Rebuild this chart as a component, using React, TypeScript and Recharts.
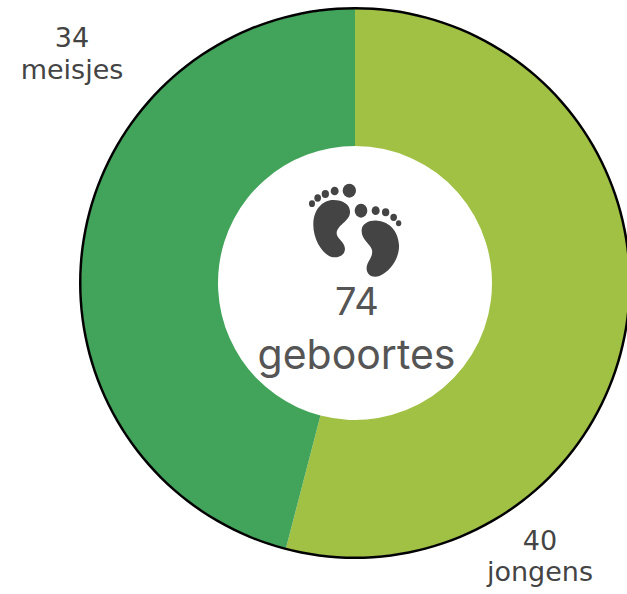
import React from "react";
import { PieChart, Pie, Cell, Customized } from "recharts";

const categories = ["jongens", "meisjes"];
const values = [40, 34];
const colors = ["#A1C145", "#42A35A"];
const total = "74";
const centerWord = "geboortes";
const data = categories.map((name, i) => ({ name, value: values[i] }));

const FeetIcon = () => (
  <g transform="translate(290,170) scale(0.3333)" fill="#444444">
    <path d="M70,160 C72,110 105,90 130,90 C160,90 182,105 180,128 C178,155 140,165 140,190 C140,207 165,215 165,238 C163,258 145,263 130,262 C100,258 68,210 70,160 Z" />
    <ellipse cx="178" cy="62" rx="20" ry="21" />
    <ellipse cx="134" cy="63" rx="12" ry="13" />
    <ellipse cx="106" cy="72" rx="11" ry="12" />
    <ellipse cx="83" cy="84" rx="10" ry="11" />
    <ellipse cx="66" cy="101" rx="9" ry="10" />
    <path d="M215,180 C216,160 240,150 262,152 C300,155 325,185 327,225 C329,265 300,305 268,318 C245,325 228,312 230,292 C232,272 250,262 246,240 C243,222 213,210 215,180 Z" />
    <ellipse cx="213" cy="122" rx="19" ry="21" />
    <ellipse cx="257" cy="122" rx="12" ry="13" />
    <ellipse cx="287" cy="127" rx="11" ry="12" />
    <ellipse cx="311" cy="142" rx="10" ry="11" />
    <ellipse cx="326" cy="160" rx="8" ry="9" />
  </g>
);

export default function App() {
  return (
    <div style={{ position: "absolute", left: 0, top: 0 }}>
      <PieChart width={627} height={594} margin={{ top: 0, right: 0, bottom: 0, left: 0 }}>
        <Pie
          data={data}
          dataKey="value"
          cx={355}
          cy={283}
          innerRadius={137}
          outerRadius={274}
          startAngle={90}
          endAngle={-270}
          stroke="none"
          isAnimationActive={false}
          labelLine={false}
          label={false}
        >
          {data.map((d, i) => (
            <Cell key={d.name} fill={colors[i]} />
          ))}
        </Pie>
        <Pie
          data={[{ value: 1 }]}
          dataKey="value"
          cx={355}
          cy={283}
          innerRadius={273.5}
          outerRadius={276}
          fill="#000000"
          stroke="none"
          isAnimationActive={false}
        />
        <Customized
          component={() => (
            <g>
              <FeetIcon />
              <text x={357} y={315} textAnchor="middle" fontFamily="Inter, sans-serif" fontSize={38} fill="#555555">{total}</text>
              <text x={356.5} y={369} textAnchor="middle" fontFamily="Inter, sans-serif" fontSize={41} fill="#555555">{centerWord}</text>
              <text x={72} y={47} textAnchor="middle" fontFamily="'DejaVu Sans', sans-serif" fontSize={27} fill="#444444">{values[1]}</text>
              <text x={72} y={79} textAnchor="middle" fontFamily="'DejaVu Sans', sans-serif" fontSize={27} fill="#444444">{categories[1]}</text>
              <text x={540} y={550} textAnchor="middle" fontFamily="'DejaVu Sans', sans-serif" fontSize={27} fill="#444444">{values[0]}</text>
              <text x={540} y={581} textAnchor="middle" fontFamily="'DejaVu Sans', sans-serif" fontSize={27} fill="#444444">{categories[0]}</text>
            </g>
          )}
        />
      </PieChart>
    </div>
  );
}
